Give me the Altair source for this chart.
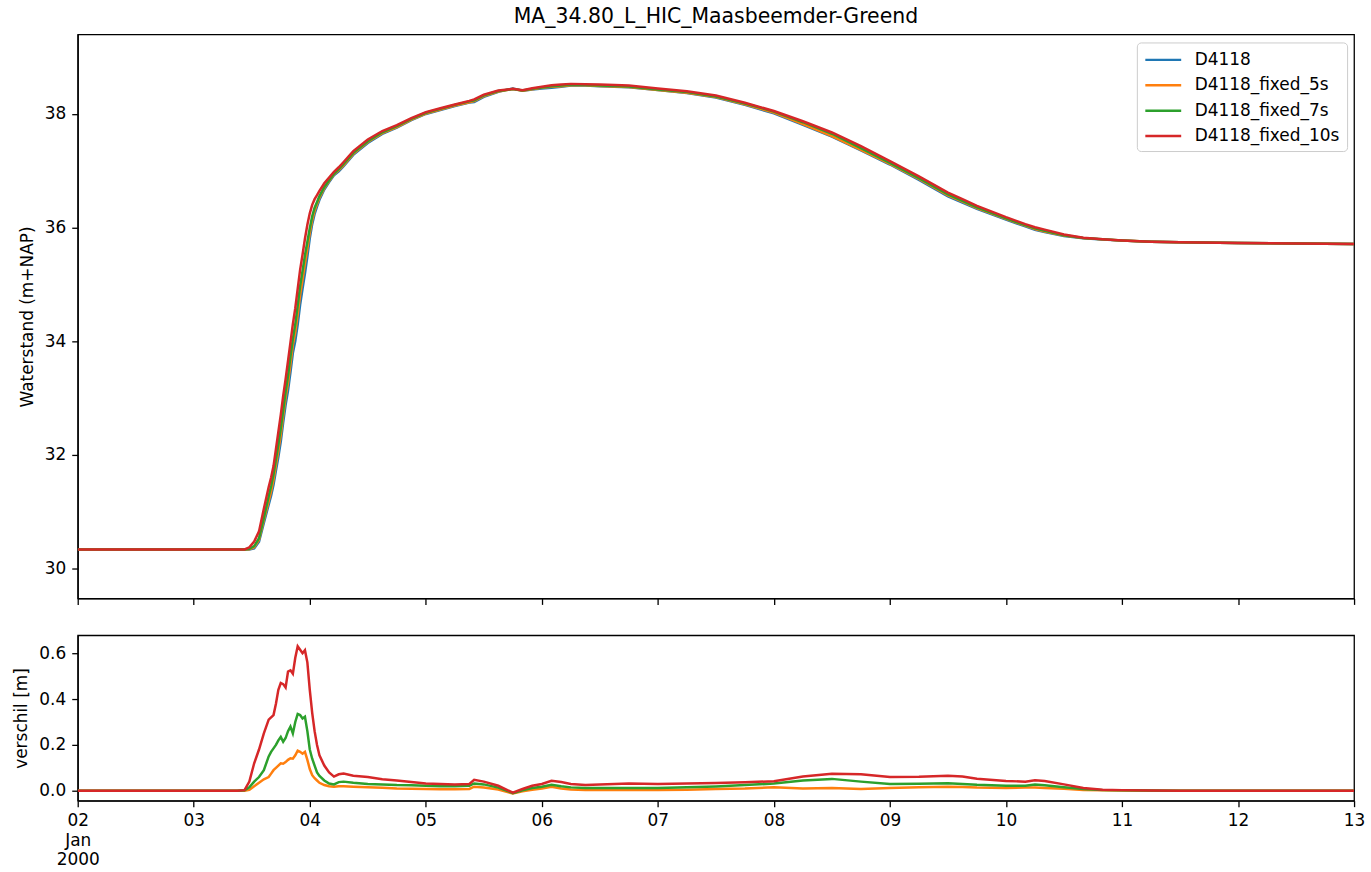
import altair as alt
import pandas as pd

# Tijd in uren vanaf 2000-01-02 00:00
hours = [0, 33, 34.5, 35.5, 36.5, 37.5, 38.5, 39.5, 40, 40.5, 41, 41.5, 42, 42.5,
         43, 43.5, 44, 44.5, 45, 45.5, 46, 46.5, 47, 47.5, 48, 48.5, 49, 49.5,
         50, 51, 52, 53, 54, 55, 57, 60, 63, 66, 69, 72, 75, 78, 81, 82, 84, 87,
         90, 92, 94, 96, 98, 100, 102, 105, 108, 114, 120, 126, 132, 138, 144,
         150, 156, 162, 168, 174, 180, 183, 186, 192, 196, 198, 200, 204, 208,
         212, 216, 222, 228, 240, 252, 264]

# Waterstand D4118 (m+NAP)
waterstand_d4118 = [30.33, 30.33, 30.33, 30.33, 30.35, 30.47, 30.80, 31.12, 31.28,
                    31.47, 31.72, 31.96, 32.23, 32.57, 32.88, 33.13, 33.45, 33.79,
                    34.00, 34.29, 34.64, 34.92, 35.19, 35.49, 35.81, 36.06, 36.24,
                    36.37, 36.49, 36.67, 36.80, 36.92, 36.99, 37.08, 37.28, 37.49,
                    37.65, 37.76, 37.89, 38.00, 38.07, 38.14, 38.20, 38.21, 38.30,
                    38.39, 38.45, 38.41, 38.43, 38.45, 38.46, 38.48, 38.50, 38.50,
                    38.49, 38.47, 38.42, 38.37, 38.29, 38.16, 38.01, 37.81, 37.60,
                    37.36, 37.11, 36.84, 36.55, 36.44, 36.33, 36.14, 36.02, 35.96,
                    35.92, 35.85, 35.81, 35.79, 35.77, 35.75, 35.74, 35.73, 35.72,
                    35.71]

# Verschil t.o.v. D4118 (m)
verschil_5s = [0, 0, 0, 0.004, 0.02, 0.035, 0.05, 0.06, 0.075, 0.09, 0.1, 0.11,
               0.12, 0.118, 0.125, 0.135, 0.142, 0.14, 0.155, 0.175, 0.17, 0.162,
               0.17, 0.135, 0.095, 0.068, 0.055, 0.045, 0.035, 0.025, 0.02, 0.018,
               0.02, 0.02, 0.018, 0.016, 0.013, 0.01, 0.009, 0.008, 0.007, 0.007,
               0.008, 0.018, 0.014, 0.006, -0.012, -0.002, 0.005, 0.01, 0.018,
               0.01, 0.006, 0.004, 0.004, 0.004, 0.004, 0.005, 0.008, 0.01, 0.015,
               0.01, 0.012, 0.008, 0.012, 0.015, 0.018, 0.017, 0.014, 0.012, 0.014,
               0.014, 0.012, 0.009, 0.004, 0.002, 0.001, 0, 0, 0, 0, 0]
verschil_7s = [0, 0, 0.002, 0.015, 0.04, 0.06, 0.09, 0.15, 0.17, 0.185, 0.2, 0.22,
               0.235, 0.214, 0.23, 0.26, 0.28, 0.25, 0.30, 0.335, 0.33, 0.315,
               0.323, 0.26, 0.18, 0.14, 0.11, 0.08, 0.065, 0.045, 0.032, 0.028,
               0.038, 0.04, 0.035, 0.03, 0.028, 0.025, 0.024, 0.022, 0.02, 0.02,
               0.022, 0.032, 0.028, 0.014, -0.01, 0.002, 0.012, 0.018, 0.026,
               0.02, 0.015, 0.012, 0.012, 0.012, 0.012, 0.015, 0.019, 0.025, 0.032,
               0.045, 0.052, 0.04, 0.03, 0.031, 0.033, 0.03, 0.026, 0.022, 0.022,
               0.027, 0.024, 0.016, 0.008, 0.003, 0.002, 0.001, 0, 0, 0, 0]
verschil_10s = [0, 0, 0.003, 0.04, 0.12, 0.18, 0.25, 0.31, 0.32, 0.33, 0.38, 0.44,
                0.47, 0.465, 0.45, 0.52, 0.525, 0.51, 0.58, 0.63, 0.615, 0.6,
                0.613, 0.56, 0.44, 0.34, 0.26, 0.2, 0.155, 0.11, 0.08, 0.062,
                0.072, 0.075, 0.066, 0.06, 0.05, 0.045, 0.038, 0.032, 0.03, 0.028,
                0.03, 0.048, 0.04, 0.022, -0.008, 0.008, 0.022, 0.03, 0.044, 0.038,
                0.03, 0.025, 0.028, 0.032, 0.03, 0.032, 0.034, 0.037, 0.042, 0.062,
                0.074, 0.072, 0.06, 0.061, 0.066, 0.062, 0.053, 0.043, 0.04, 0.046,
                0.043, 0.028, 0.012, 0.005, 0.003, 0.001, 0, 0, 0, 0]

series = ["D4118", "D4118_fixed_5s", "D4118_fixed_7s", "D4118_fixed_10s"]
colors = ["#1f77b4", "#ff7f0e", "#2ca02c", "#d62728"]
day_ticks = list(range(0, 265, 24))

verschillen = {
    "D4118_fixed_5s": verschil_5s,
    "D4118_fixed_7s": verschil_7s,
    "D4118_fixed_10s": verschil_10s,
}

level_rows = []
for i, h in enumerate(hours):
    level_rows.append({"uur": h, "serie": "D4118", "waterstand": waterstand_d4118[i]})
for name, d in verschillen.items():
    for i, h in enumerate(hours):
        level_rows.append({"uur": h, "serie": name,
                           "waterstand": waterstand_d4118[i] + d[i]})
df_level = pd.DataFrame(level_rows)

diff_rows = []
for name, d in verschillen.items():
    for i, h in enumerate(hours):
        diff_rows.append({"uur": h, "serie": name, "verschil": d[i]})
df_diff = pd.DataFrame(diff_rows)

color_scale = alt.Scale(domain=series, range=colors)
x_scale = alt.Scale(domain=[0, 264], nice=False, zero=False)

top = alt.Chart(df_level).mark_line(strokeWidth=2.5, clip=True).encode(
    x=alt.X("uur:Q", scale=x_scale,
            axis=alt.Axis(values=day_ticks, labels=False, title=None)),
    y=alt.Y("waterstand:Q",
            scale=alt.Scale(domain=[29.47, 39.40], nice=False, zero=False),
            axis=alt.Axis(values=[30, 32, 34, 36, 38], title="Waterstand (m+NAP)")),
    color=alt.Color("serie:N", scale=color_scale, sort=series,
                    legend=alt.Legend(
                        title=None, orient="none", legendX=1063, legendY=8,
                        symbolType="M-1,0H3", symbolSize=324,
                        symbolStrokeWidth=2.5, labelFontSize=17,
                        labelOffset=30, rowPadding=6.5, padding=7,
                        fillColor="white", strokeColor="#cccccc",
                        cornerRadius=4, labelColor="black")),
).properties(
    width=1281, height=566,
    title=alt.TitleParams("MA_34.80_L_HIC_Maasbeemder-Greend", fontSize=20.5,
                          fontWeight="normal", anchor="middle", frame="group",
                          offset=7, color="black"),
)

bottom = alt.Chart(df_diff).mark_line(strokeWidth=2.5, clip=True).encode(
    x=alt.X("uur:Q", scale=x_scale,
            axis=alt.Axis(values=day_ticks, title=None, labelLineHeight=19.5,
                          labelFlush=False,
                          labelExpr="datum.value == 0 ? ['02', 'Jan', '2000'] : "
                                    "format(2 + datum.value / 24, '02d')")),
    y=alt.Y("verschil:Q",
            scale=alt.Scale(domain=[-0.043, 0.678], nice=False, zero=False),
            axis=alt.Axis(values=[0, 0.2, 0.4, 0.6], format=".1f",
                          title="verschil [m]")),
    color=alt.Color("serie:N", scale=color_scale, sort=series, legend=None),
).properties(width=1281, height=166)

chart = alt.vconcat(top, bottom, spacing=28).configure(
    font="DejaVu Sans",
    padding={"left": 12, "top": 4, "right": 5, "bottom": 5},
).configure_view(
    stroke="black", strokeWidth=1.3,
).configure_axis(
    grid=False, domainColor="black", domainWidth=1.3,
    tickColor="black", tickWidth=1.3, tickSize=6,
    labelFontSize=17, labelColor="black", labelPadding=6,
    titleFontSize=17, titleColor="black", titleFontWeight="normal",
    titlePadding=8,
).configure_legend(
    labelFont="DejaVu Sans",
)

chart.save("out.html", embed_options={"renderer": "svg", "actions": False})
